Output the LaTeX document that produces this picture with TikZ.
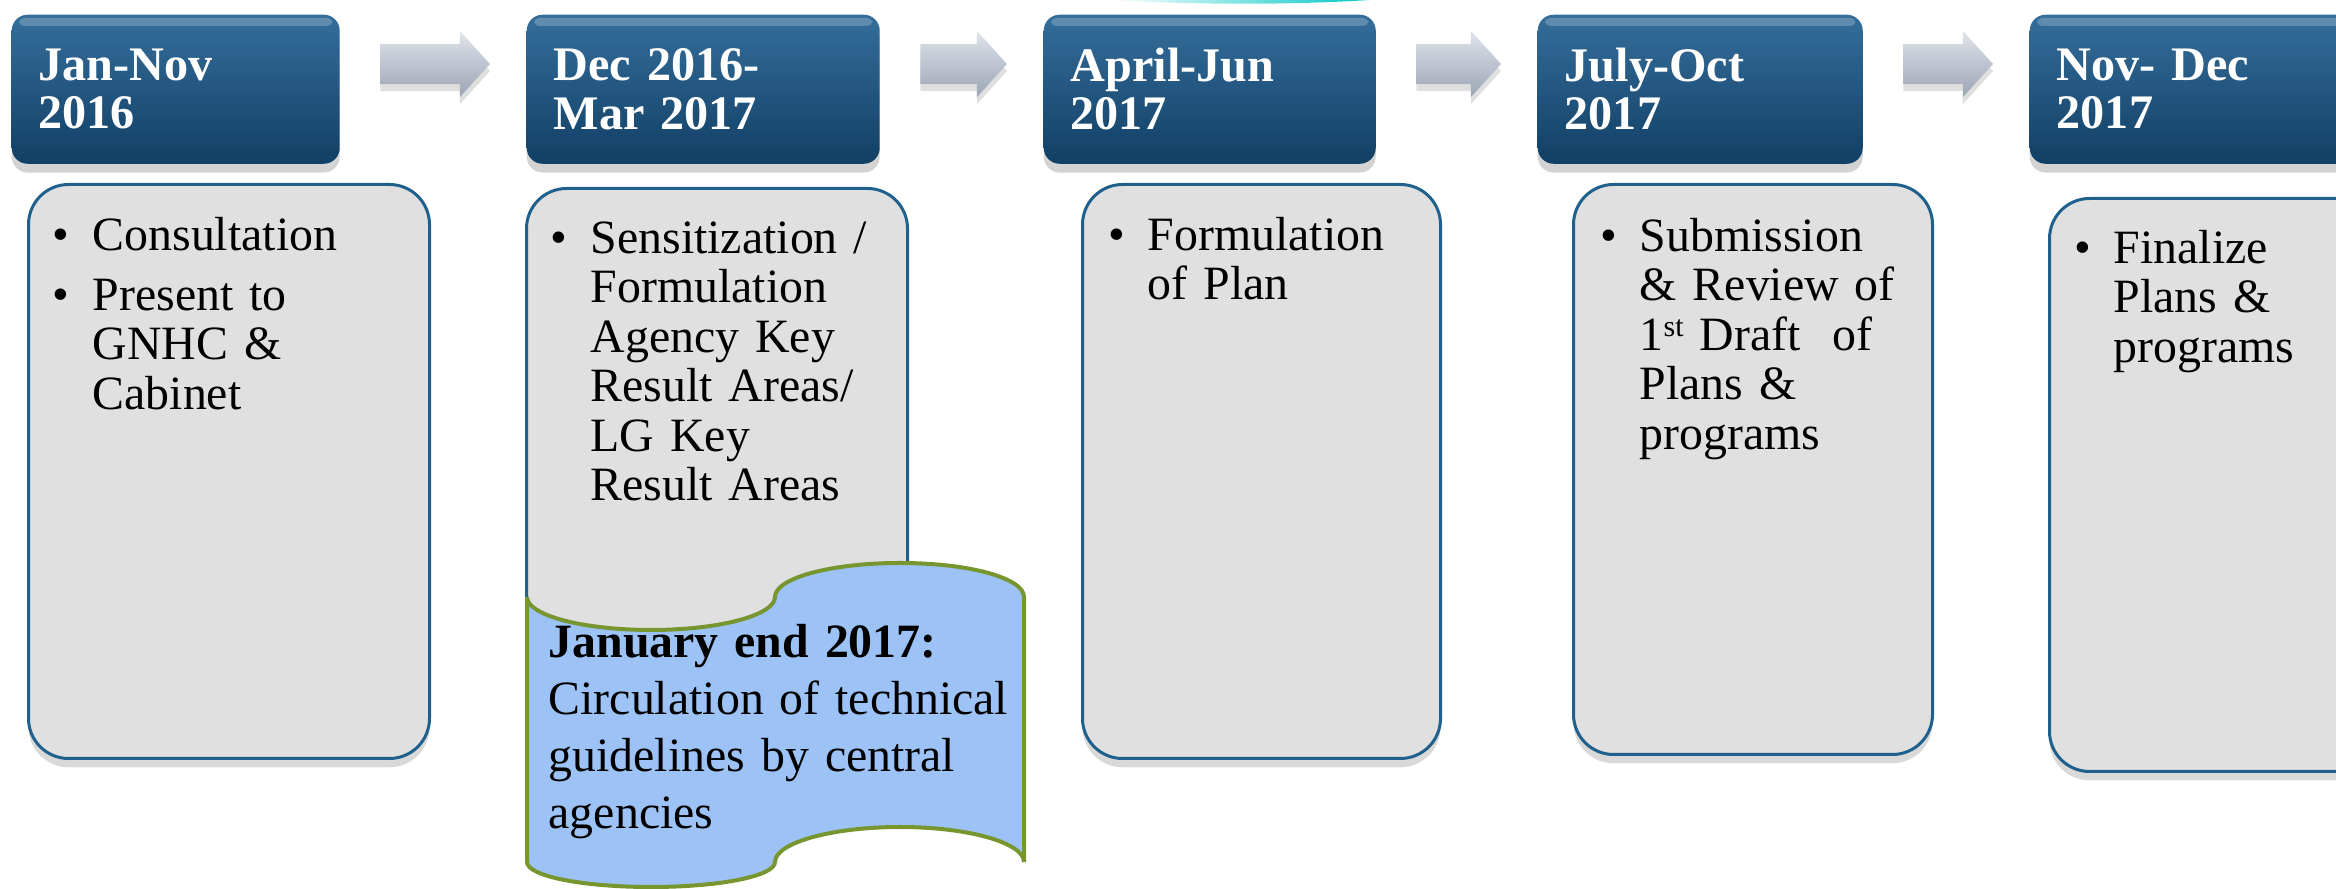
\documentclass[tikz,border=0pt]{standalone}
\usepackage{fontspec}
\setmainfont{Liberation Serif}
\usetikzlibrary{positioning,shadows,calc}

\definecolor{hdtop}{RGB}{53,110,155}
\definecolor{hdbot}{RGB}{17,63,101}
\definecolor{cardfill}{RGB}{224,224,224}
\definecolor{cardline}{RGB}{31,96,140}
\definecolor{notefill}{RGB}{157,195,246}
\definecolor{noteline}{RGB}{120,150,48}
\definecolor{arrtop}{RGB}{224,228,234}
\definecolor{arrbot}{RGB}{156,165,181}

\newcommand\bul{\noindent\llap{\textbullet\hspace{0.23cm}}}
\newcommand\ordsup[1]{\raisebox{0.28em}{\fontsize{8.5}{8.5}\selectfont #1}}

\begin{document}
\begin{tikzpicture}[x=0.01cm, y=-0.01cm,
    datebox/.style={rounded corners=0.16cm, top color=hdtop, bottom color=hdbot,
      minimum height=1.49cm, inner xsep=0.27cm, inner ysep=0pt, align=left, text=white,
      font=\fontsize{13.7}{13.7}\selectfont\bfseries,
      drop shadow={shadow xshift=0pt, shadow yshift=-2.5pt, opacity=.35}},
    stepcard/.style={rounded corners=0.4cm, fill=cardfill, draw=cardline, line width=0.03cm,
      drop shadow={shadow xshift=0pt, shadow yshift=-2.5pt, opacity=.3}},
    cardtext/.style={text width=3.3cm, align=left, inner sep=0pt, font=\fontsize{13.6}{14.1}\selectfont},
    notetext/.style={text width=4.7cm, align=left, inner sep=0pt, font=\fontsize{13.6}{16.2}\selectfont}]
      \def\shaft{0.2cm}
      \def\head{0.33cm}
      \def\tiplen{0.3cm}

      \useasboundingbox (0,0) rectangle (2336,889);
      \clip (0,0) rectangle (2336,889);

      % Cabeceras de fechas
      \foreach \n/\x/\w/\t in {1/11/328/{Jan-Nov\\2016}, 2/526/353/{Dec 2016-\\Mar 2017},
                               3/1043/332/{April-Jun\\2017}, 4/1537/325/{July-Oct\\2017},
                               5/2029/340/{Nov- Dec\\2017}} {
        \node[datebox, minimum width=\w*0.01cm, text width={(\w-54)*0.01cm}, anchor=north west] (h\n) at (\x,14) {\t};
        \fill[white, opacity=.22, rounded corners=0.05cm]
          ([xshift=0.08cm, yshift=-0.04cm]h\n.north west) rectangle ([xshift=-0.08cm, yshift=-0.12cm]h\n.north east);
      }

      % Flechas entre cabeceras
      \foreach \a/\b in {1/2,2/3,3/4,4/5} {
        \shade[top color=arrtop, bottom color=arrbot, drop shadow={shadow xshift=0pt, shadow yshift=-2pt, opacity=.25}]
          let \p1=([xshift=0.4cm, yshift=-0.5cm]h\a.north east), \p2=([xshift=-0.36cm, yshift=-0.5cm]h\b.north west) in
          (\x1,{\y1+\shaft}) -- ({\x2-\tiplen},{\y1+\shaft}) -- ({\x2-\tiplen},{\y1+\head})
          -- (\x2,\y1) -- ({\x2-\tiplen},{\y1-\head}) -- ({\x2-\tiplen},{\y1-\shaft}) -- (\x1,{\y1-\shaft}) -- cycle;
      }

      % Tarjetas de actividades
      \foreach \n/\x/\y/\w/\h in {1/27/183/401/574, 2/525/187/381/573, 3/1081/183/358/574,
                                  4/1572/183/359/570, 5/2048/197/360/573} {
        \node[stepcard, minimum width=\w*0.01cm, minimum height=\h*0.01cm, anchor=north west] (b\n) at (\x,\y) {};
      }

      \node[cardtext, anchor=base west] (t1) at ([xshift=0.65cm, yshift=-0.67cm]b1.north west)
        {\bul Consultation\par\vspace{3pt}\bul Present to\\GNHC \&\\Cabinet};
      \node[cardtext, anchor=base west] (t2) at ([xshift=0.65cm, yshift=-0.66cm]b2.north west)
        {\bul Sensitization /\\Formulation\\Agency Key\\Result Areas/\\LG Key\\Result Areas};
      \node[cardtext, anchor=base west] (t3) at ([xshift=0.66cm, yshift=-0.67cm]b3.north west)
        {\bul Formulation\\of Plan};
      \node[cardtext, anchor=base west] (t4) at ([xshift=0.67cm, yshift=-0.68cm]b4.north west)
        {\bul Submission\\\& Review of\\1\ordsup{st} Draft\ \ of\\Plans \&\\programs};
      \node[cardtext, anchor=base west] (t5) at ([xshift=0.65cm, yshift=-0.66cm]b5.north west)
        {\bul Finalize\\Plans \&\\programs};

      % Cinta (nota de enero)
      \draw[fill=notefill, draw=noteline, line width=0.04cm]
        (527,597) .. controls (527,615) and (582,630) .. (651,630)
        .. controls (720,630) and (775,615) .. (775,597)
        .. controls (775,578) and (831,563) .. (900,563)
        .. controls (969,563) and (1024,578) .. (1024,597)
        -- (1024,862)
        .. controls (1024,843) and (969,827) .. (900,827)
        .. controls (831,827) and (775,843) .. (775,862)
        .. controls (775,876) and (720,887) .. (651,887)
        .. controls (582,887) and (527,876) .. (527,862)
        -- cycle;
      \node[notetext, anchor=base west] (note) at (548,658)
        {\textbf{January end 2017:}\\Circulation of technical\\guidelines by central\\agencies};

      % Borde cortado arriba
      \shade[left color=white, right color=cyan!55!teal] (1110,0) .. controls (1200,5) and (1290,5) .. (1370,0) -- cycle;
    \end{tikzpicture}
\end{document}
